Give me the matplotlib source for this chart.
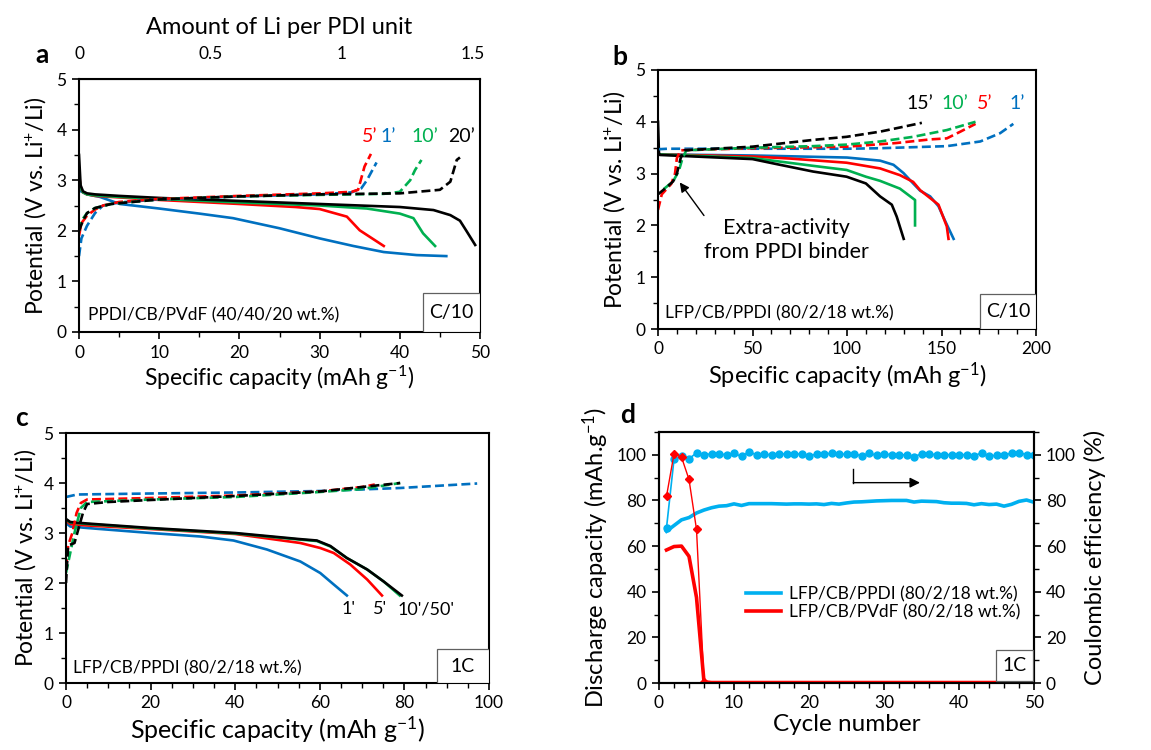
import matplotlib
matplotlib.use("Agg")
import matplotlib.pyplot as plt
from matplotlib.patches import Rectangle
from matplotlib.ticker import MultipleLocator
import numpy as np

plt.rcParams['font.family'] = ['Lato', 'DejaVu Sans']
plt.rcParams['mathtext.fontset'] = 'custom'
plt.rcParams['mathtext.rm'] = 'Lato'
plt.rcParams['mathtext.it'] = 'Lato:italic'

BLUE = '#0070C0'
RED = '#FF0000'
GREEN = '#00B050'
BLACK = '#000000'
CYAN = '#00B0F0'

# ---------------- Panel a data ----------------
a_dis_black_x = [0, 0.2, 0.5, 1, 2, 5, 10, 20, 30, 40, 44.2, 46.3, 47.5, 48.3, 49.4]
a_dis_black_y = [3.5, 2.9, 2.78, 2.74, 2.72, 2.69, 2.65, 2.59, 2.53, 2.47, 2.41, 2.31, 2.2, 2.0, 1.72]
a_dis_green_x = [0, 0.2, 0.5, 1, 2, 5, 10, 20, 30, 35.9, 40, 41.7, 42.9, 44.4]
a_dis_green_y = [3.1, 2.85, 2.76, 2.72, 2.7, 2.67, 2.63, 2.56, 2.5, 2.44, 2.34, 2.25, 1.95, 1.70]
a_dis_red_x = [0, 0.2, 0.5, 1, 2, 5, 10, 20, 27, 30, 33.4, 35, 38]
a_dis_red_y = [3.15, 2.85, 2.76, 2.72, 2.69, 2.66, 2.61, 2.53, 2.47, 2.43, 2.28, 2.01, 1.70]
a_dis_blue_x = [0, 0.5, 1, 2.6, 5.1, 10, 15, 19.2, 25, 30, 34.2, 38, 42.1, 45.8]
a_dis_blue_y = [2.8, 2.76, 2.72, 2.67, 2.53, 2.44, 2.34, 2.25, 2.05, 1.85, 1.70, 1.58, 1.52, 1.50]

a_ch_blue_x = [0, 0.3, 1, 2, 3, 5, 10, 20, 30, 34, 35.2, 35.9, 37.1]
a_ch_blue_y = [1.5, 1.85, 2.1, 2.35, 2.5, 2.56, 2.62, 2.68, 2.72, 2.76, 2.84, 3.0, 3.35]
a_ch_red_x = [0, 0.3, 1, 2, 3, 5, 10, 20, 30, 34, 34.8, 35.6, 36.4]
a_ch_red_y = [1.9, 2.15, 2.3, 2.42, 2.5, 2.57, 2.63, 2.69, 2.74, 2.77, 2.81, 3.27, 3.52]
a_ch_green_x = [0, 0.3, 1, 2, 4, 10, 20, 30, 38, 40, 41.3, 41.9, 42.7]
a_ch_green_y = [2.0, 2.2, 2.35, 2.45, 2.53, 2.62, 2.68, 2.71, 2.73, 2.77, 3.0, 3.2, 3.40]
a_ch_black_x = [0, 0.5, 1, 2, 4, 10, 20, 30, 40, 45, 46.3, 47.1, 47.5]
a_ch_black_y = [2.0, 2.2, 2.35, 2.45, 2.53, 2.62, 2.68, 2.72, 2.74, 2.81, 2.97, 3.4, 3.45]

a_labels = ["5\u2019", "1\u2019", "10\u2019", "20\u2019"]
a_label_x = [36.2, 38.6, 43.1, 47.7]

# ---------------- Panel b data ----------------
b_dis_blue_x = [0, 1, 50, 100, 117.5, 124.6, 129.9, 135, 138.7, 144, 148.4, 152, 156.4]
b_dis_blue_y = [3.4, 3.37, 3.35, 3.31, 3.25, 3.17, 3.01, 2.81, 2.67, 2.56, 2.37, 2.08, 1.74]
b_dis_red_x = [0, 1, 50, 70, 99.8, 117.5, 128, 135, 138.7, 148.4, 152.8, 153.7]
b_dis_red_y = [3.4, 3.37, 3.33, 3.29, 3.21, 3.1, 2.97, 2.84, 2.68, 2.4, 1.98, 1.74]
b_dis_green_x = [0, 1, 50, 82, 99.8, 110, 117.5, 128, 136, 136]
b_dis_green_y = [3.4, 3.37, 3.30, 3.15, 3.07, 2.94, 2.86, 2.71, 2.49, 2.0]
b_dis_black_x = [0, 0.5, 1, 50, 64.5, 82, 99.8, 110, 117.5, 123.7, 126.3, 130]
b_dis_black_y = [4.0, 3.4, 3.36, 3.28, 3.17, 3.04, 2.94, 2.81, 2.56, 2.40, 2.17, 1.74]

b_ch_blue_x = [0, 5, 50, 100, 117.5, 152.8, 170.5, 181, 188]
b_ch_blue_y = [3.47, 3.48, 3.48, 3.48, 3.49, 3.53, 3.62, 3.78, 3.96]
b_ch_red_x = [0, 2, 7, 9, 10, 12, 50, 100, 126, 144, 152.8, 160, 168]
b_ch_red_y = [2.3, 2.6, 2.8, 3.0, 3.3, 3.45, 3.49, 3.52, 3.59, 3.66, 3.68, 3.81, 3.96]
b_ch_green_x = [3, 8, 11, 13, 15, 50, 82, 100, 117.5, 135, 152.8, 168]
b_ch_green_y = [2.7, 2.85, 3.05, 3.3, 3.45, 3.50, 3.53, 3.56, 3.62, 3.71, 3.84, 4.0]
b_ch_black_x = [0, 5, 8, 10, 12, 14, 50, 82, 99.8, 117.5, 128, 139.6]
b_ch_black_y = [2.6, 2.75, 2.85, 3.0, 3.3, 3.45, 3.52, 3.65, 3.71, 3.81, 3.89, 3.98]

b_labels = ["15\u2019", "10\u2019", "5\u2019", "1\u2019"]
b_label_x = [138.7, 157, 173, 190]

# ---------------- Panel c data ----------------
c_dis_blue_x = [0, 1, 5, 20, 31.8, 39.6, 47.5, 55.4, 60.1, 63.3, 66.4]
c_dis_blue_y = [3.2, 3.13, 3.1, 3.0, 2.93, 2.85, 2.67, 2.43, 2.2, 1.97, 1.75]
c_dis_red_x = [0, 1, 5, 20, 40, 55.4, 60.1, 63.3, 67.2, 71.2, 74.7]
c_dis_red_y = [3.25, 3.18, 3.15, 3.08, 2.98, 2.80, 2.7, 2.6, 2.37, 2.07, 1.75]
c_dis_green_x = [0, 1, 5, 20, 40, 55, 59.3, 62.5, 66.4, 71.2, 75.1, 78.9]
c_dis_green_y = [3.27, 3.21, 3.18, 3.09, 2.99, 2.87, 2.84, 2.73, 2.5, 2.27, 2.03, 1.75]
c_dis_black_x = [0, 1, 5, 20, 40, 55, 59.3, 62.5, 66.4, 71.2, 75.1, 79.4]
c_dis_black_y = [3.28, 3.22, 3.19, 3.1, 3.0, 2.88, 2.85, 2.74, 2.5, 2.27, 2.03, 1.75]

c_ch_blue_x = [0, 2.6, 20, 40, 60, 79, 97.2]
c_ch_blue_y = [3.72, 3.77, 3.79, 3.81, 3.84, 3.9, 3.99]
c_ch_red_x = [0, 0.5, 1.5, 2.5, 3.5, 5, 20, 40, 60, 70, 73]
c_ch_red_y = [2.3, 2.75, 3.0, 3.4, 3.6, 3.67, 3.7, 3.75, 3.83, 3.92, 3.97]
c_ch_green_x = [0, 1, 2, 3.5, 5, 20, 40, 60, 70, 79]
c_ch_green_y = [2.2, 2.6, 3.0, 3.5, 3.62, 3.67, 3.72, 3.82, 3.88, 4.0]
c_ch_black_x = [0, 0.5, 2, 3, 4, 5, 10, 20, 40, 60, 70, 79]
c_ch_black_y = [2.0, 2.75, 2.8, 3.1, 3.4, 3.58, 3.62, 3.66, 3.74, 3.83, 3.92, 4.0]

c_labels = ["1'", "5'", "10'/50'"]
c_label_x = [66.8, 74.3, 85]

# ---------------- Panel d data ----------------
cycles = list(range(1, 51))
ppdi_cap = [66.5, 69, 71.5, 72.5, 74.5, 75.8, 76.8, 77.5, 77.7, 78.5,
            77.8, 78.6, 78.6, 78.6, 78.6, 78.5, 78.4, 78.5, 78.5, 78.4,
            78.5, 78.2, 78.7, 78.4, 78.9, 79.3, 79.4, 79.6, 79.8, 79.9,
            80.0, 80.0, 80.0, 79.3, 79.7, 79.6, 79.5, 79.0, 78.8, 78.8,
            78.7, 78.1, 78.6, 78.2, 78.4, 77.5, 78.3, 79.6, 80.2, 79.2]
ppdi_ce = [68, 98, 99.5, 98.3, 100.8, 99.9, 100.5, 100.4, 100, 100.6,
           99.3, 101.3, 100, 100.2, 100, 100.5, 100.3, 100.4, 100.3, 99.7,
           100.2, 100.4, 100.6, 100.3, 100.3, 100.5, 99.5, 100.7, 99.8, 100.3,
           100.1, 100, 100, 99.2, 100.4, 100.3, 100.1, 100, 100.1, 100,
           100.1, 99.6, 100.8, 99.3, 99.9, 99.8, 100.8, 100.9, 100.1, 100.1]
pvdf_cap = [58.3, 59.8, 60.0, 55.5, 37.5, 0.5] + [0.2] * 44
pvdf_ce_cycles = [1, 2, 3, 4, 5, 6]
pvdf_ce = [81.8, 100.4, 99, 89.2, 67.3, 0.5]

# ---------------- Figure ----------------
fig = plt.figure(figsize=(11.51, 7.5), dpi=100)
W, H = 1151, 750


def ax_rect(l, r, t, b):
    return [l / W, 1 - b / H, (r - l) / W, (b - t) / H]


LW = 1.9
DASH = (3.4, 1.6)
TICKFS = 12.5
LABELFS = 16.5
XUNIT = "Specific capacity (mAh g$^{\\mathregular{-1}}$)"


def style(ax, xmaj, xmin, ymaj=1, ymin=0.5):
    ax.xaxis.set_major_locator(MultipleLocator(xmaj))
    ax.xaxis.set_minor_locator(MultipleLocator(xmin))
    ax.yaxis.set_major_locator(MultipleLocator(ymaj))
    ax.yaxis.set_minor_locator(MultipleLocator(ymin))
    ax.tick_params(which='major', direction='out', length=5, width=1.2, labelsize=TICKFS, pad=4)
    ax.tick_params(which='minor', direction='out', length=3.5, width=1.0)
    for s in ax.spines.values():
        s.set_linewidth(1.5)


def corner_box(ax, x0, y0, x1, y1, text):
    ax.add_patch(Rectangle((x0, y0), x1 - x0, y1 - y0, transform=ax.transAxes,
                           fill=True, facecolor='white', edgecolor='#606060', lw=0.9, zorder=5))
    ax.text((x0 + x1) / 2, (y0 + y1) / 2, text, transform=ax.transAxes,
            ha='center', va='center', fontsize=14, zorder=6)


def dashed(ax, x, y, c):
    ax.plot(x, y, color=c, lw=LW, dashes=DASH)


# Panel a
axa = fig.add_axes(ax_rect(79, 480, 79, 332))
for x, y, c in [(a_dis_blue_x, a_dis_blue_y, BLUE), (a_dis_red_x, a_dis_red_y, RED),
                (a_dis_green_x, a_dis_green_y, GREEN), (a_dis_black_x, a_dis_black_y, BLACK)]:
    axa.plot(x, y, color=c, lw=LW)
for x, y, c in [(a_ch_blue_x, a_ch_blue_y, BLUE), (a_ch_red_x, a_ch_red_y, RED),
                (a_ch_green_x, a_ch_green_y, GREEN), (a_ch_black_x, a_ch_black_y, BLACK)]:
    dashed(axa, x, y, c)
axa.set_xlim(0, 50)
axa.set_ylim(0, 5)
style(axa, 10, 5)
axa.set_xlabel(XUNIT, fontsize=LABELFS, labelpad=2)
axa.set_ylabel("Potential (V vs. Li$^{+}$/Li)", fontsize=LABELFS, labelpad=6)
for lab, lx, c in zip(a_labels, a_label_x, [RED, BLUE, GREEN, BLACK]):
    axa.text(lx, 3.86, lab, color=c, fontsize=14, ha='center', va='center')
axa.text(0.023, 0.066, "PPDI/CB/PVdF (40/40/20 wt.%)", transform=axa.transAxes,
         fontsize=12.5, ha='left', va='center')
corner_box(axa, 0.858, 0.0, 1.0, 0.154, "C/10")
LI_PER = 32.7
top = axa.secondary_xaxis('top', functions=(lambda x: x / LI_PER, lambda l: l * LI_PER))
top.set_xticks([0, 0.5, 1, 1.5])
top.set_xticklabels(["0", "0.5", "1", "1.5"])
top.tick_params(length=0, labelsize=TICKFS, pad=12)
top.set_xlabel("Amount of Li per PDI unit", fontsize=17, labelpad=9)
fig.text(42 / W, 1 - 55 / H, "a", fontsize=19, fontweight='bold', ha='center', va='center')

# Panel b
axb = fig.add_axes(ax_rect(658, 1036, 70, 329))
for x, y, c in [(b_dis_blue_x, b_dis_blue_y, BLUE), (b_dis_red_x, b_dis_red_y, RED),
                (b_dis_green_x, b_dis_green_y, GREEN), (b_dis_black_x, b_dis_black_y, BLACK)]:
    axb.plot(x, y, color=c, lw=LW)
for x, y, c in [(b_ch_blue_x, b_ch_blue_y, BLUE), (b_ch_red_x, b_ch_red_y, RED),
                (b_ch_green_x, b_ch_green_y, GREEN), (b_ch_black_x, b_ch_black_y, BLACK)]:
    dashed(axb, x, y, c)
axb.set_xlim(0, 200)
axb.set_ylim(0, 5)
style(axb, 50, 10)
axb.set_xlabel(XUNIT, fontsize=LABELFS + 0.5, labelpad=2)
axb.set_ylabel("Potential (V vs. Li$^{+}$/Li)", fontsize=LABELFS, labelpad=6)
for lab, lx, c in zip(b_labels, b_label_x, [BLACK, GREEN, RED, BLUE]):
    axb.text(lx, 4.36, lab, color=c, fontsize=14, ha='center', va='center')
axb.text(0.018, 0.059, "LFP/CB/PPDI (80/2/18 wt.%)", transform=axb.transAxes,
         fontsize=12.5, ha='left', va='center')
corner_box(axb, 0.853, 0.0, 1.0, 0.135, "C/10")
axb.annotate("Extra-activity\nfrom PPDI binder", xy=(11.5, 2.83), xytext=(68, 1.72),
             fontsize=15.5, ha='center', va='center', linespacing=1.2,
             arrowprops=dict(arrowstyle='-|>', color='black', lw=1.0,
                             shrinkA=0, shrinkB=0, mutation_scale=14,
                             relpos=(0.05, 0.8)))
fig.text(620 / W, 1 - 57 / H, "b", fontsize=19, fontweight='bold', ha='center', va='center')

# Panel c
axc = fig.add_axes(ax_rect(66, 489, 433, 683))
for x, y, c in [(c_dis_blue_x, c_dis_blue_y, BLUE), (c_dis_red_x, c_dis_red_y, RED),
                (c_dis_green_x, c_dis_green_y, GREEN), (c_dis_black_x, c_dis_black_y, BLACK)]:
    axc.plot(x, y, color=c, lw=LW)
for x, y, c in [(c_ch_blue_x, c_ch_blue_y, BLUE), (c_ch_red_x, c_ch_red_y, RED),
                (c_ch_green_x, c_ch_green_y, GREEN), (c_ch_black_x, c_ch_black_y, BLACK)]:
    dashed(axc, x, y, c)
axc.set_xlim(0, 100)
axc.set_ylim(0, 5)
style(axc, 20, 5)
axc.set_xlabel(XUNIT, fontsize=LABELFS + 1.5, labelpad=2)
axc.set_ylabel("Potential (V vs. Li$^{+}$/Li)", fontsize=LABELFS, labelpad=4)
for lab, lx in zip(c_labels, c_label_x):
    axc.text(lx, 1.47, lab, color=BLACK, fontsize=13, ha='center', va='center')
axc.text(0.017, 0.06, "LFP/CB/PPDI (80/2/18 wt.%)", transform=axc.transAxes,
         fontsize=12.5, ha='left', va='center')
corner_box(axc, 0.877, 0.0, 1.0, 0.136, "1C")
fig.text(22 / W, 1 - 418 / H, "c", fontsize=19, fontweight='bold', ha='center', va='center')

# Panel d
axd = fig.add_axes(ax_rect(659, 1034, 432, 683))
axd2 = axd.twinx()
axd.plot(cycles, ppdi_cap, color=CYAN, lw=2.6, label="LFP/CB/PPDI (80/2/18 wt.%)", zorder=3)
axd.plot(cycles, pvdf_cap, color=RED, lw=2.6, label="LFP/CB/PVdF (80/2/18 wt.%)", zorder=3)
axd2.plot(cycles, ppdi_ce, color=CYAN, lw=1.2, marker='o', ms=5)
axd2.plot(pvdf_ce_cycles, pvdf_ce, color=RED, lw=1.0, marker='D', ms=4)
for a in (axd, axd2):
    a.set_xlim(0, 50)
    a.set_ylim(0, 110)
style(axd, 10, 2, 20, 10)
axd2.yaxis.set_major_locator(MultipleLocator(20))
axd2.yaxis.set_minor_locator(MultipleLocator(10))
axd2.set_yticks([0, 20, 40, 60, 80, 100])
axd.set_yticks([0, 20, 40, 60, 80, 100])
axd2.tick_params(which='major', direction='out', length=5, width=1.2, labelsize=TICKFS)
axd2.tick_params(which='minor', direction='out', length=3.5, width=1.0)
for s in axd2.spines.values():
    s.set_linewidth(1.5)
axd.set_xlabel("Cycle number", fontsize=LABELFS + 1, labelpad=2)
axd.set_ylabel("Discharge capacity (mAh.g$^{\\mathregular{-1}}$)", fontsize=LABELFS + 0.5, labelpad=4)
axd2.set_ylabel("Coulombic efficiency (%)", fontsize=LABELFS + 0.5, labelpad=6)
axd.legend(loc='center left', bbox_to_anchor=(0.19, 0.318), frameon=False,
           fontsize=12.5, handlelength=2.0, handletextpad=0.5, labelspacing=0.12)
axd.annotate("", xy=(34.8, 87.8), xytext=(25.9, 87.8),
             arrowprops=dict(arrowstyle='-|>', color='black', lw=1.0,
                             shrinkA=0, shrinkB=0, mutation_scale=15))
axd.plot([25.9, 25.9], [93.7, 87.8], color='black', lw=1.0)
corner_box(axd2, 0.898, 0.007, 0.998, 0.133, "1C")
fig.text(628 / W, 1 - 415 / H, "d", fontsize=19, fontweight='bold', ha='center', va='center')

fig.savefig("out.png", dpi=100)
